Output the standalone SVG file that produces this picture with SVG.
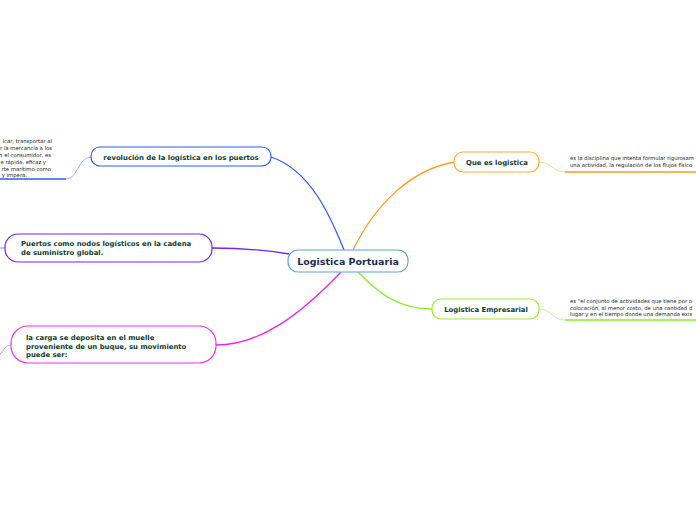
<svg xmlns="http://www.w3.org/2000/svg" width="696" height="520" viewBox="0 0 696 520">
<style>
.t{font-family:"DejaVu Sans",Verdana,sans-serif;font-weight:bold;font-size:6.9px;fill:#0f3b2e}
.s{font-family:"DejaVu Sans",Verdana,sans-serif;font-size:5.3px;fill:#222}
.n{fill:#fff;stroke-width:1.2}
.c{fill:none;stroke-width:1.3}
.f{fill:none;stroke-width:0.6}
</style>
<rect width="696" height="520" fill="#fff"/>
<g id="connectors">
<path class="c" stroke="#2f5cf5" d="M344,250 C330,215 310,170 271,157"/>
<path class="c" stroke="#ff9c1a" d="M353,250 C375,205 410,170 454,162"/>
<path class="c" stroke="#7a22ee" d="M289,254 C260,249 235,248 212,248"/>
<path class="c" stroke="#ee22ee" d="M341,272 C300,315 260,345 216,345"/>
<path class="c" stroke="#88ee22" d="M358,272 C380,295 400,309 432,309"/>
<path class="f" stroke="#ffb84a" d="M539,162 C552,162 552,172 565,172"/>
<path d="M565,172 H696" stroke="#ff9c1a" stroke-width="1.3"/>
<path class="f" stroke="#99ee44" d="M539,309 C552,309 552,320 565,320"/>
<path d="M565,320 H696" stroke="#88ee22" stroke-width="1.3"/>
<path class="f" stroke="#6688ff" d="M91,157 C78,157 78,179 66,179"/>
<path d="M0,179 H66" stroke="#2f5cf5" stroke-width="1.3"/>
<path class="f" stroke="#7a22ee" d="M5,248 H0"/>
<path class="f" stroke="#ee44ee" d="M11,345 C5,345 3,352 0,354"/>
</g>
<g id="central">
<rect class="n" x="288" y="250" width="120" height="22" rx="10" fill="#f3f9fe" stroke="#5ba2e2"/>
<text x="348" y="265" text-anchor="middle" style="font-family:'DejaVu Sans',Verdana,sans-serif;font-weight:bold;font-size:9.5px;fill:#1a2c52">Logistica Portuaria</text>
</g>
<g id="que-es">
<rect class="n" x="454" y="152" width="85" height="20" rx="9" stroke="#ffab33"/>
<text class="t" x="497" y="164.5" text-anchor="middle">Que es logistica</text>
</g>
<g id="empresarial">
<rect class="n" x="432" y="299" width="107" height="20" rx="9" stroke="#99ee33"/>
<text class="t" x="486" y="311.5" text-anchor="middle">Logistica Empresarial</text>
</g>
<g id="revolucion">
<rect class="n" x="91" y="147" width="180" height="19" rx="9" stroke="#2f5cf5"/>
<text class="t" x="181" y="159.5" text-anchor="middle">revolución de la logística en los puertos</text>
</g>
<g id="puertos">
<rect class="n" x="5" y="234" width="207" height="28" rx="13" stroke="#7a22ee"/>
<text class="t" x="21" y="246">Puertos como nodos logísticos en la cadena</text>
<text class="t" x="21" y="255">de suministro global.</text>
</g>
<g id="carga">
<rect class="n" x="11" y="326" width="205" height="37" rx="17" stroke="#ee33ee"/>
<text class="t" x="26" y="340">la carga se deposita en el muelle</text>
<text class="t" x="26" y="348.5">proveniente de un buque, su movimiento</text>
<text class="t" x="26" y="357">puede ser:</text>
</g>
<g id="que-es-text">
<text class="s" x="570" y="160">es la disciplina que intenta formular rigurosam</text>
<text class="s" x="570" y="166.5">una actividad, la regulación de los flujos físico</text>
</g>
<g id="empresarial-text">
<text class="s" x="570" y="303">es "el conjunto de actividades que tiene por o</text>
<text class="s" x="570" y="309.5">colocación, al menor costo, de una cantidad d</text>
<text class="s" x="570" y="316">lugar y en el tiempo donde una demanda exis</text>
</g>
<g id="revolucion-text">
<text class="s" x="52" y="143" text-anchor="end">icar, transportar al</text>
<text class="s" x="52" y="150" text-anchor="end">r la mercancía a los</text>
<text class="s" x="51" y="157" text-anchor="end">n el consumidor, es</text>
<text class="s" x="46" y="164" text-anchor="end">e rápida, eficaz y</text>
<text class="s" x="51" y="171" text-anchor="end">rte marítimo como</text>
<text class="s" x="27" y="177" text-anchor="end">y impera.</text>
</g>
</svg>
